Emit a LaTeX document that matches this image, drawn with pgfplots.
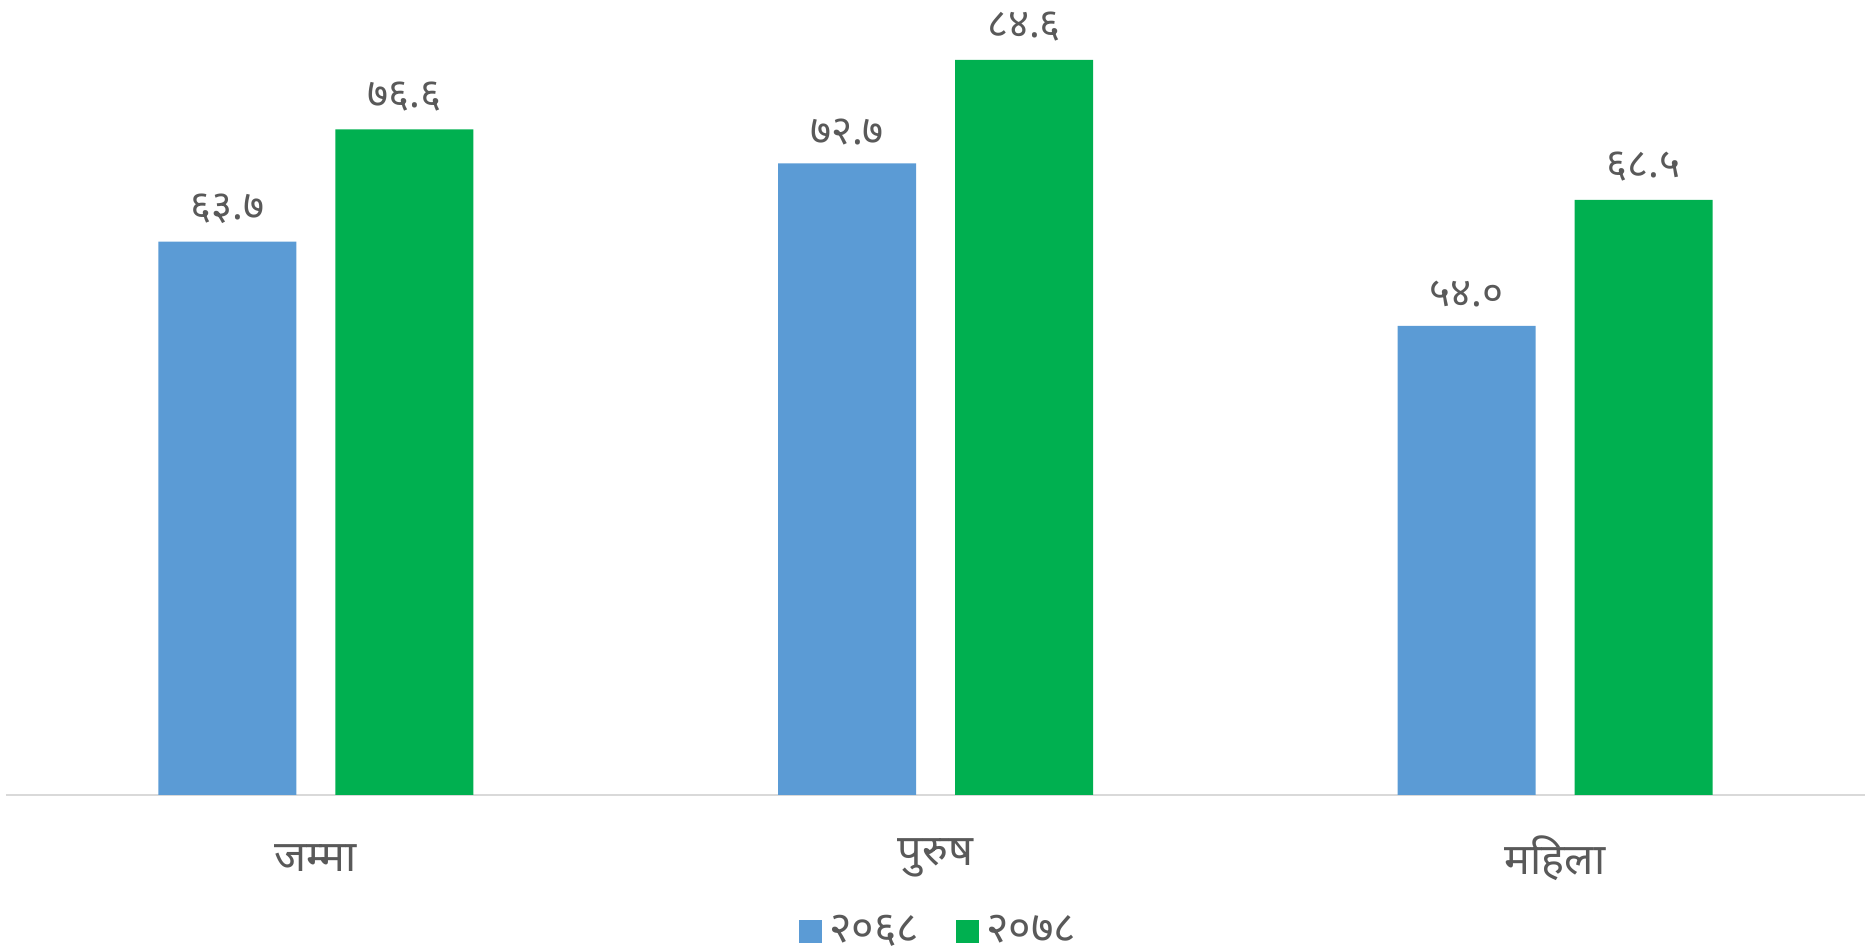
\documentclass[border=0pt]{standalone}
\usepackage{pgfplots}
\pgfplotsset{compat=1.18}
\usepackage{fontspec}
\setmainfont{Noto Sans}[Script=Devanagari]
\definecolor{cblue}{HTML}{5B9BD5}
\definecolor{cgreen}{HTML}{00B050}
\definecolor{ctext}{HTML}{595959}
\definecolor{caxis}{HTML}{D9D9D9}
\begin{document}
\begin{tikzpicture}
\path[use as bounding box] (0,0) rectangle (187.2mm,95.2mm);
\begin{axis}[
  at={(0.6mm,15.7mm)}, anchor=south west,
  scale only axis, width=185.9mm, height=78.2mm,
  xmin=-0.5, xmax=2.5, ymin=0, ymax=90,
  ybar=3.9mm, bar width=13.8mm,
  axis x line*=bottom, axis y line=none,
  x axis line style={draw=caxis, line width=0.8pt, -},
  xtick={0,1,2}, xticklabels={जम्मा,पुरुष,महिला},
  major tick length=0, ytick=\empty,
  xticklabel style={anchor=center, yshift=-6.3mm, font=\fontsize{12.3}{14}\selectfont, text=ctext},
  point meta=explicit symbolic,
  nodes near coords,
  nodes near coords style={anchor=south, yshift=0.6mm, font=\fontsize{11.5}{13}\selectfont, text=ctext},
  clip=false,
  legend columns=2,
  legend style={at={(axis description cs:0.503,-0.175)}, anchor=center, draw=none, fill=none,
    font=\fontsize{12.3}{14}\selectfont, text=ctext,
    /tikz/every even column/.append style={column sep=3mm}},
  legend image code/.code={\fill[#1] (0mm,-1.15mm) rectangle (2.3mm,1.15mm);},
]
\addplot[fill=cblue, draw=none] coordinates {(0,63.7) [६३.७] (1,72.7) [७२.७] (2,54.0) [५४.०]};
\addplot[fill=cgreen, draw=none] coordinates {(0,76.6) [७६.६] (1,84.6) [८४.६] (2,68.5) [६८.५]};
\legend{२०६८,२०७८}
\end{axis}
\end{tikzpicture}
\end{document}
